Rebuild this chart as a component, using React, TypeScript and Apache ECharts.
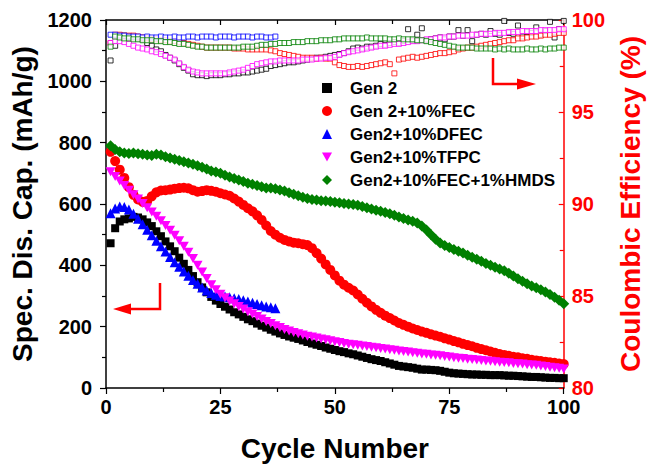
import React, { useEffect, useRef } from "react";
import * as echarts from "echarts";

const cycles: number[] = Array.from({ length: 100 }, (_, i) => i + 1);

const gen2Cap = [472,521,543,550,553,558,556,550,540,528, 511,495,478,462,446,425,405,385,365,345, 328,312,297,285,274,265,256,247,240,232, 224,218,210,203,197,190,184,178,173,168, 164,160,155,150,145,141,137,132,128,124, 120,117,113,110,106,102,98,94,91,88, 84,80,76,72,70,68,66,63,60,60, 59,58,56,53,50,48,47,46,45,44, 44,43,43,42,42,42,41,40,40,39, 38,37,36,36,35,34,33,33,32,32];
const fecCap = [770,740,712,685,655,630,615,607,610,625, 638,644,645,647,650,652,653,651,645,640, 642,645,643,640,635,631,627,618,608,597, 586,576,563,548,530,512,500,490,483,478, 474,472,469,466,456,440,422,403,385,367, 350,337,327,318,305,291,278,266,255,245, 236,228,220,212,206,200,194,189,184,180, 175,171,167,162,158,153,149,144,140,136, 131,127,123,119,115,111,108,105,102,100, 97,95,92,90,88,86,84,82,80,78];
const dfecCap = [570,585,592,590,582,568,552,534,516,498, 480,462,445,427,410,395,380,366,352,340, 328,318,310,304,300,298,296,293,290,286, 282,278,274,270,266,263,260];
const tfpcCap = [705,690,675,660,645,630,616,602,588,574, 560,545,530,514,498,480,462,443,422,400, 378,357,337,320,306,294,284,275,266,258, 249,241,233,225,217,210,203,197,191,186, 181,177,173,169,166,163,160,157,154,151, 148,145,143,141,139,137,135,133,131,129, 127,125,123,121,119,117,115,113,111,110, 108,107,105,103,101,99,97,96,94,93, 91,90,88,87,86,84,83,82,80,79, 78,76,75,74,72,70,68,66,64,62];
const hmdsCap = [790,778,770,766,765,766,764,762,760,758, 762,760,754,750,746,742,738,734,730,725, 720,714,708,704,700,694,688,683,678,673, 668,664,660,656,652,652,650,646,642,637, 632,627,622,618,615,613,611,610,608,606, 604,602,600,598,596,592,588,584,580,576, 572,568,563,558,553,548,544,538,528,515, 500,485,473,465,458,452,446,440,433,426, 420,413,406,400,394,388,382,374,365,356, 348,340,333,327,320,313,305,296,286,275];

const gen2CE = [97.8,98.6,99.1,99.15,99.1,99.05,99.0,98.95,98.75,98.6, 98.4,98.3,98.1,97.95,97.8,97.6,97.4,97.25,97.05,97.0, 97.0,96.95,97.0,97.0,97.0,97.05,97.05,97.1,97.1,97.15, 97.15,97.2,97.25,97.3,97.35,97.5,97.55,97.6,97.65,97.7, 97.7,97.75,97.8,97.85,97.9,97.95,97.95,98.0,98.05,98.1, 98.15,98.2,98.3,98.45,98.5,98.45,98.55,98.55,98.6,98.7, 98.65,98.75,98.8,98.75,98.85,99.5,98.9,99.2,99.55,98.9, 98.95,99.0,99.05,98.95,99.1,99.1,99.45,99.15,99.45,98.85, 99.2,99.25,99.2,99.4,99.25,99.2,99.95,99.3,99.25,99.7, 99.1,99.35,99.3,99.6,99.2,99.4,99.9,99.05,99.5,99.95];
const fecCE = [98.75,99.2,99.2,99.15,99.15,99.15,99.1,99.05,99.0,98.95, 98.95,98.9,98.9,98.85,98.85,98.8,98.75,98.7,98.65,98.6, 98.55,98.5,98.5,98.5,98.5,98.5,98.5,98.45,98.45,98.45, 98.4,98.4,98.4,98.4,98.4,98.35,98.3,98.2,98.15,98.1, 98.05,98.0,97.95,97.95,97.95,97.9,97.95,97.9,97.9,97.7, 97.55,97.5,97.45,97.45,97.5,97.45,97.5,97.55,97.6,97.65, 97.7,97.6,97.1,97.85,97.9,97.95,98.0,97.95,98.0,98.05, 98.1,98.15,98.2,98.2,98.25,98.3,98.4,98.45,98.5,98.5, 98.55,98.6,98.65,98.7,98.75,98.8,98.85,98.9,98.9,99.0, 99.0,99.05,99.1,99.1,99.15,99.2,99.2,99.25,99.3,99.3];
const dfecCE = [99.2,99.2,99.15,99.15,99.1,99.1,99.1,99.05,99.1,99.05, 99.05,99.1,99.05,99.05,99.1,99.05,99.05,99.1,99.1,99.05, 99.1,99.1,99.1,99.05,99.1,99.1,99.1,99.05,99.1,99.1, 99.1,99.05,99.1,99.1,99.05,99.05,99.1];
const tfpcCE = [98.75,98.85,98.85,98.8,98.7,98.6,98.5,98.45,98.4,98.3, 98.25,98.15,98.05,97.95,97.85,97.65,97.45,97.3,97.2,97.15, 97.1,97.1,97.1,97.1,97.1,97.1,97.15,97.2,97.25,97.3, 97.4,97.5,97.6,97.65,97.7,97.75,97.75,97.8,97.8,97.8, 97.8,97.8,97.85,97.85,97.85,97.9,97.9,97.95,97.95,98.0, 98.1,98.2,98.25,98.3,98.35,98.4,98.45,98.5,98.55,98.6, 98.6,98.65,98.7,98.7,98.75,98.8,98.85,98.85,98.9,98.95, 98.95,99.0,99.05,99.05,99.1,99.1,99.15,99.15,99.15,99.2, 99.2,99.25,99.25,99.25,99.3,99.3,99.3,99.35,99.35,99.35, 99.4,99.4,99.4,99.4,99.45,99.45,99.45,99.45,99.5,99.5];
const hmdsCE = [98.55,99.1,99.05,99.0,99.0,98.95,98.95,98.9,98.9,98.9, 98.85,98.85,98.8,98.8,98.75,98.7,98.7,98.65,98.6,98.55, 98.55,98.5,98.5,98.5,98.5,98.5,98.5,98.5,98.5,98.55, 98.55,98.55,98.6,98.65,98.65,98.7,98.7,98.75,98.75,98.75, 98.8,98.8,98.8,98.85,98.85,98.85,98.9,98.9,98.9,98.95, 98.95,99.0,99.0,99.0,99.0,99.0,99.05,99.0,99.0,99.0, 99.0,98.95,98.95,99.0,98.95,98.95,98.95,98.9,98.9,98.85, 98.8,98.75,98.7,98.65,98.6,98.55,98.5,98.5,98.5,98.5, 98.45,98.45,98.45,98.45,98.4,98.45,98.4,98.45,98.4,98.4, 98.4,98.45,98.4,98.4,98.45,98.4,98.45,98.45,98.5,98.5];

const seriesNames = ["Gen 2", "Gen 2+10%FEC", "Gen2+10%DFEC", "Gen2+10%TFPC", "Gen2+10%FEC+1%HMDS"];
const seriesColors = ["#000000", "#ff0000", "#0000ff", "#ff00ff", "#008000"];

const FONT = "'Liberation Sans', Arial, Helvetica, sans-serif";
const DOWN_TRI = "path://M0,0 L10,0 L5,9 Z";

function zip(vals: number[]) {
  return vals.map((v, i) => [cycles[i], v]);
}

export default function App() {
  const ref = useRef<HTMLDivElement>(null);
  useEffect(() => {
    if (!ref.current) return;
    const chart = echarts.init(ref.current, null, { renderer: "svg" });
    const caps = [gen2Cap, fecCap, dfecCap, tfpcCap, hmdsCap];
    const ces = [gen2CE, fecCE, dfecCE, tfpcCE, hmdsCE];
    const symbols = ["rect", "circle", "triangle", DOWN_TRI, "diamond"];
    const sizes = [8, 10, 10, 10, 11];
    const series: any[] = [];
    ces.forEach((vals, k) => {
      series.push({
        type: "scatter",
        name: seriesNames[k] + " CE",
        xAxisIndex: 0,
        yAxisIndex: 1,
        data: zip(vals),
        symbol: "rect",
        symbolSize: 5,
        itemStyle: { color: "#ffffff", borderColor: seriesColors[k], borderWidth: 1 },
        z: 2 + k,
        silent: true,
      });
    });
    caps.forEach((vals, k) => {
      series.push({
        type: "scatter",
        name: seriesNames[k],
        xAxisIndex: 0,
        yAxisIndex: 0,
        data: zip(vals),
        symbol: symbols[k],
        symbolSize: k === 3 ? [10, 9] : sizes[k],
        itemStyle: { color: seriesColors[k], opacity: 1 },
        z: 10 + k,
        silent: true,
      });
    });

    const tickLabel = { fontFamily: FONT, fontWeight: "bold", fontSize: 20, color: "#000", formatter: (v: number) => String(v) };

    chart.setOption({
      animation: false,
      backgroundColor: "#ffffff",
      grid: { left: 106, right: 83, top: 20, bottom: 76, containLabel: false },
      legend: {
        orient: "vertical",
        left: 317,
        top: 74,
        itemWidth: 10,
        itemHeight: 10,
        itemGap: 5,
        selectedMode: false,
        textStyle: { fontFamily: FONT, fontWeight: "bold", fontSize: 17, color: "#000", lineHeight: 18, padding: [0, 0, 0, 13] },
        data: seriesNames.map((n, k) => ({ name: n, icon: symbols[k], itemStyle: { color: seriesColors[k] } })),
      },
      xAxis: [
        {
          type: "value",
          min: 0,
          max: 100,
          interval: 25,
          position: "bottom",
          axisLine: { show: true, onZero: false, lineStyle: { color: "#000", width: 1.5 } },
          axisTick: { show: true, inside: false, length: 6, lineStyle: { color: "#000", width: 1.2 } },
          minorTick: { show: true, splitNumber: 2, length: 4, lineStyle: { color: "#000", width: 1.2 } },
          axisLabel: { ...tickLabel, margin: 9 },
          splitLine: { show: false },
          name: "Cycle Number",
          nameLocation: "middle",
          nameGap: 46,
          nameTextStyle: { fontFamily: FONT, fontWeight: "bold", fontSize: 28, color: "#000" },
        },
        {
          type: "value",
          min: 0,
          max: 100,
          interval: 25,
          position: "top",
          axisLine: { show: true, onZero: false, lineStyle: { color: "#000", width: 1.5 } },
          axisTick: { show: true, inside: true, length: 5, lineStyle: { color: "#000", width: 1.2 } },
          minorTick: { show: true, splitNumber: 2, length: 4, lineStyle: { color: "#000", width: 1.2 } },
          axisLabel: { show: false },
          splitLine: { show: false },
        },
      ],
      yAxis: [
        {
          type: "value",
          min: 0,
          max: 1200,
          interval: 200,
          position: "left",
          axisLine: { show: true, onZero: false, lineStyle: { color: "#000", width: 1.5 } },
          axisTick: { show: true, inside: false, length: 6, lineStyle: { color: "#000", width: 1.2 } },
          minorTick: { show: true, splitNumber: 2, length: 4, lineStyle: { color: "#000", width: 1.2 } },
          axisLabel: { ...tickLabel, margin: 14 },
          splitLine: { show: false },
          name: "Spec. Dis. Cap. (mAh/g)",
          nameLocation: "middle",
          nameGap: 62,
          nameTextStyle: { fontFamily: FONT, fontWeight: "bold", fontSize: 28, color: "#000" },
        },
        {
          type: "value",
          min: 80,
          max: 100,
          interval: 5,
          position: "right",
          axisLine: { show: true, onZero: false, lineStyle: { color: "#ff0000", width: 1.5 } },
          axisTick: { show: true, inside: true, length: 5, lineStyle: { color: "#ff0000", width: 1.2 } },
          minorTick: { show: true, splitNumber: 2, length: 4, lineStyle: { color: "#ff0000", width: 1.2 } },
          axisLabel: { ...tickLabel, color: "#ff0000", margin: 8 },
          splitLine: { show: false },
          name: "Coulombic Efficiency (%)",
          nameLocation: "middle",
          nameGap: 50,
          nameTextStyle: { fontFamily: FONT, fontWeight: "bold", fontSize: 28, color: "#ff0000" },
        },
      ],
      graphic: [
        { type: "polyline", silent: true, z: 100, shape: { points: [[493, 58], [493, 84], [520, 84]] }, style: { stroke: "#ff0000", lineWidth: 2.5, fill: null } },
        { type: "polygon", silent: true, z: 100, shape: { points: [[517, 78.5], [536, 84], [517, 89.5]] }, style: { fill: "#ff0000" } },
        { type: "polyline", silent: true, z: 100, shape: { points: [[160, 283], [160, 309], [130, 309]] }, style: { stroke: "#ff0000", lineWidth: 2.5, fill: null } },
        { type: "polygon", silent: true, z: 100, shape: { points: [[131, 303.5], [113, 309], [131, 314.5]] }, style: { fill: "#ff0000" } },
      ],
      series,
    });
    return () => chart.dispose();
  }, []);
  return (
    <div
      ref={ref}
      style={{ position: "fixed", left: 0, top: 0, width: 652, height: 467, background: "#fff" }}
    />
  );
}
